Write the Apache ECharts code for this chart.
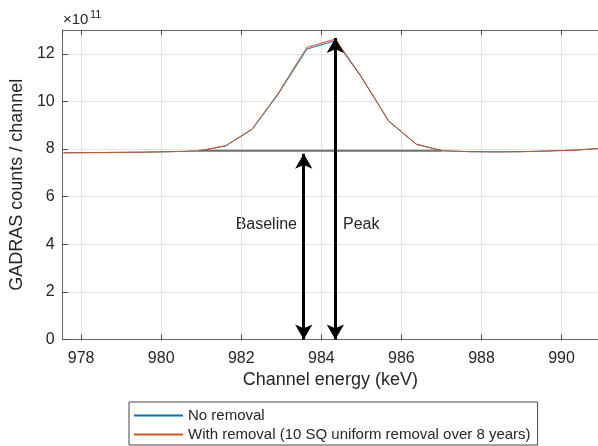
<!DOCTYPE html>
<html>
<head>
<meta charset="utf-8">
<script src="https://cdn.jsdelivr.net/npm/echarts@6/dist/echarts.min.js"></script>
<style>
  html, body { margin: 0; padding: 0; background: #fff; }
  #chart { width: 598px; height: 446px; }
</style>
</head>
<body>
<div id="chart"></div>
<script>
// channel energies (keV)
const energy = [977.56, 978.24, 978.91, 979.59, 980.26, 980.94, 981.61, 982.27, 982.92, 983.64, 984.35,
  984.99, 985.68, 986.37, 987.01, 987.69, 988.36, 989.04, 989.71, 990.39, 991.06]
// counts per channel, in units of 1e11
const noRemoval = [7.84, 7.85, 7.86, 7.87, 7.89, 7.92, 8.13, 8.82, 10.30, 12.20, 12.55,
  11.04, 9.17, 8.20, 7.93, 7.89, 7.88, 7.89, 7.92, 7.96, 8.04]
const withRemoval = [7.84, 7.85, 7.86, 7.87, 7.89, 7.92, 8.14, 8.84, 10.34, 12.27, 12.62,
  11.07, 9.19, 8.21, 7.93, 7.89, 7.88, 7.89, 7.92, 7.96, 8.04]
// baseline under the peak
const baselineX = [980.94, 987.01]
const baselineY = 7.93
// arrows: [energy, top value]
const baselineArrow = [983.56, 7.80]
const peakArrow = [984.35, 12.66]

const xMin = 977.54
const xMax = 990.91
const yMax = 13

const font = 'Arial, "Liberation Sans", Helvetica, sans-serif'
const txt = '#262626'

const chart = echarts.init(document.getElementById('chart'))

const pair = (xs, ys) => xs.map((x, i) => [x, ys[i]])

const option = {
  animation: false,
  textStyle: { fontFamily: font },
  grid: { left: 62, top: 30, right: 0, bottom: 106.5, containLabel: false },
  legend: {
    orient: 'vertical',
    left: 129,
    top: 402,
    padding: [5, 7, 2, 5],
    itemGap: 2,
    itemWidth: 49,
    itemHeight: 2,
    icon: 'rect',
    borderColor: '#444',
    borderWidth: 1,
    textStyle: { fontSize: 15, color: txt, lineHeight: 17, fontFamily: font },
    data: ['No removal', 'With removal (10 SQ uniform removal over 8 years)']
  },
  xAxis: [{
    type: 'value',
    min: xMin,
    max: xMax,
    splitNumber: 6,
    name: 'Channel energy (keV)',
    nameLocation: 'middle',
    nameGap: 31,
    nameTextStyle: { fontSize: 18, color: txt, fontFamily: font },
    axisLine: { onZero: false, lineStyle: { color: '#666', width: 1 } },
    axisTick: { inside: true, length: 5, lineStyle: { color: '#444' } },
    axisLabel: {
      fontSize: 16, color: txt, margin: 11,
      showMinLabel: false, showMaxLabel: false,
      formatter: v => (Math.abs(v - Math.round(v)) < 1e-6 ? String(Math.round(v)) : '')
    },
    splitLine: { show: true, lineStyle: { color: '#e3e3e3', width: 1 } }
  }, {
    type: 'value',
    position: 'top',
    min: xMin,
    max: xMax,
    splitNumber: 6,
    axisLine: { onZero: false, lineStyle: { color: '#666', width: 1 } },
    axisTick: { inside: true, length: 5, lineStyle: { color: '#444' } },
    axisLabel: { show: false },
    splitLine: { show: false }
  }],
  yAxis: {
    type: 'value',
    min: 0,
    max: yMax,
    interval: 2,
    name: 'GADRAS counts / channel',
    nameLocation: 'middle',
    nameGap: 28,
    nameTextStyle: { fontSize: 18, color: txt, fontFamily: font },
    axisLine: { show: true, lineStyle: { color: '#666', width: 1 } },
    axisTick: { show: true, inside: true, length: 5, lineStyle: { color: '#444' } },
    axisLabel: { fontSize: 16, color: txt, margin: 8, showMaxLabel: false },
    splitLine: { show: true, lineStyle: { color: '#e3e3e3', width: 1 } }
  },
  graphic: [
    { type: 'text', left: 63, top: 12, style: { text: '×10', font: '15px ' + font, fill: txt } },
    { type: 'text', left: 90, top: 9, style: { text: '11', font: '11px ' + font, fill: txt } },
    { type: 'text', right: 598 - 297, top: 217, style: { text: 'Baseline', font: '16px ' + font, fill: txt } },
    { type: 'text', left: 343, top: 217, style: { text: 'Peak', font: '16px ' + font, fill: txt } }
  ],
  series: [
    {
      name: 'baseline',
      type: 'line',
      data: pair(baselineX, [baselineY, baselineY]),
      showSymbol: false,
      lineStyle: { color: '#6f6f6f', width: 2 },
      z: 1,
      silent: true
    },
    {
      name: 'No removal',
      type: 'line',
      data: pair(energy, noRemoval),
      showSymbol: false,
      color: '#0072BD',
      lineStyle: { color: '#0072BD', width: 1 },
      z: 2
    },
    {
      name: 'With removal (10 SQ uniform removal over 8 years)',
      type: 'line',
      data: pair(energy, withRemoval),
      showSymbol: false,
      color: '#D95319',
      lineStyle: { color: '#D95319', width: 1 },
      z: 3
    },
    {
      name: 'arrows',
      type: 'line',
      data: [],
      z: 5,
      markLine: {
        silent: true,
        symbol: ['arrow', 'arrow'],
        symbolSize: [13, 15],
        label: { show: false },
        lineStyle: { color: '#000', width: 3, type: 'solid' },
        data: [
          [{ coord: [baselineArrow[0], 0] }, { coord: [baselineArrow[0], baselineArrow[1]] }],
          [{ coord: [peakArrow[0], 0] }, { coord: [peakArrow[0], peakArrow[1]] }]
        ]
      }
    }
  ]
}
chart.setOption(option)
</script>
</body>
</html>
